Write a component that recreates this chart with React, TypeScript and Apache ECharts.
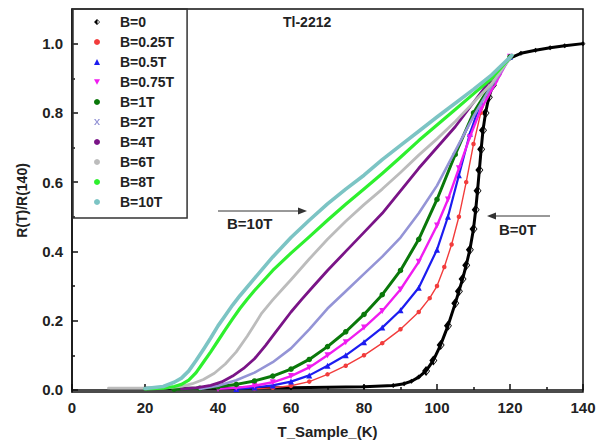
import React, { useEffect, useRef } from 'react';
import * as echarts from 'echarts';

// ---- data (T in K, R(T)/R(140)) ----
const X_TICKS = [0, 20, 40, 60, 80, 100, 120, 140];
const X_MINOR = [10, 30, 50, 70, 90, 110, 130];
const Y_TICKS = [0, 0.2, 0.4, 0.6, 0.8, 1.0];
const Y_MINOR = [0.1, 0.3, 0.5, 0.7, 0.9];

const NAMES = ['B=0', 'B=0.25T', 'B=0.5T', 'B=0.75T', 'B=1T', 'B=2T', 'B=4T', 'B=6T', 'B=8T', 'B=10T'];

const b0 = [[20,0.005],[40,0.005],[60,0.006],[80,0.009],[88,0.013],[91,0.018],[93,0.025],[95,0.037],[97,0.055],[99,0.085],[101,0.13],[103,0.185],[105,0.25],[106,0.285],[107,0.32],[108,0.36],[109,0.405],[110,0.465],[110.6,0.52],[111.1,0.575],[111.6,0.635],[112.1,0.695],[112.6,0.75],[113.3,0.8],[114.2,0.845],[115.3,0.88],[116.6,0.91],[118.2,0.938],[120,0.958],[123,0.972],[127,0.981],[131,0.988],[135,0.994],[140,1.0]];
const b025 = [[50,0.003],[55,0.006],[60,0.012],[65,0.024],[70,0.045],[75,0.07],[80,0.1],[85,0.135],[90,0.175],[95,0.225],[98,0.265],[100,0.3],[102,0.355],[104,0.42],[106,0.5],[108,0.6],[110,0.71],[112,0.8],[114,0.855],[117,0.915],[120,0.962]];
const b05 = [[45,0.003],[50,0.007],[55,0.013],[60,0.024],[65,0.042],[70,0.07],[75,0.1],[80,0.138],[85,0.18],[90,0.23],[95,0.295],[100,0.405],[103,0.5],[106,0.62],[109,0.74],[112,0.83],[116,0.9],[120,0.962]];
const b075 = [[40,0.003],[45,0.006],[50,0.012],[55,0.022],[60,0.04],[65,0.065],[70,0.1],[75,0.138],[80,0.18],[85,0.228],[90,0.29],[95,0.37],[100,0.475],[103,0.55],[106,0.64],[109,0.73],[112,0.81],[116,0.885],[120,0.962]];
const b1 = [[28,0.002],[35,0.005],[40,0.009],[45,0.016],[50,0.026],[55,0.04],[60,0.06],[65,0.088],[70,0.125],[75,0.168],[80,0.218],[85,0.275],[90,0.345],[95,0.435],[100,0.55],[105,0.68],[110,0.8],[115,0.885],[120,0.962]];
const b2 = [[35,0.003],[40,0.012],[45,0.028],[50,0.05],[55,0.08],[60,0.12],[65,0.175],[70,0.235],[75,0.285],[80,0.335],[85,0.385],[90,0.44],[95,0.51],[100,0.59],[105,0.69],[110,0.79],[115,0.88],[120.5,0.966]];
const b4 = [[30,0.003],[34,0.006],[38,0.013],[41,0.023],[44,0.04],[47,0.062],[50,0.09],[53,0.128],[56,0.17],[60,0.225],[63,0.262],[66,0.298],[70,0.345],[75,0.4],[80,0.455],[85,0.51],[90,0.575],[95,0.64],[100,0.7],[105,0.76],[110,0.83],[115,0.9],[120.5,0.966]];
const b6 = [[10,0.005],[20,0.005],[26,0.006],[30,0.01],[33,0.018],[36,0.03],[39,0.048],[42,0.075],[45,0.11],[48,0.155],[50,0.188],[52,0.222],[55,0.26],[58,0.295],[60,0.318],[65,0.378],[70,0.435],[75,0.487],[80,0.535],[85,0.58],[90,0.628],[95,0.678],[100,0.725],[105,0.775],[110,0.83],[115,0.885],[120.5,0.966]];
const b8 = [[20,0.003],[25,0.005],[28,0.01],[30,0.016],[32,0.028],[34,0.05],[36,0.08],[38,0.11],[40,0.142],[42,0.174],[44,0.205],[46,0.235],[48,0.262],[50,0.287],[55,0.345],[60,0.395],[65,0.442],[70,0.49],[75,0.536],[80,0.58],[85,0.625],[90,0.672],[95,0.72],[100,0.765],[105,0.81],[110,0.855],[115,0.9],[120.5,0.966]];
const b10 = [[20,0.004],[25,0.01],[28,0.022],[30,0.034],[32,0.055],[34,0.085],[36,0.117],[38,0.15],[40,0.185],[42,0.215],[44,0.245],[46,0.272],[50,0.322],[55,0.384],[60,0.44],[65,0.49],[70,0.537],[75,0.58],[80,0.62],[85,0.665],[90,0.706],[95,0.747],[100,0.788],[105,0.828],[110,0.868],[115,0.91],[120.5,0.966]];

const SERIES_DATA = [b0, b025, b05, b075, b1, b2, b4, b6, b8, b10];
const COLORS = ['#000000', '#f23c3c', '#1c1cf0', '#f01cf0', '#0a780a', '#9494d6', '#7a1487', '#bcbcbc', '#2ef02e', '#7cc4c4'];

const HALF_DIAMOND = 'path://M0,-10 L10,0 L0,10 L-10,0 Z M1.5,-6 L1.5,6 L7.5,0 Z';
const TRI_DOWN = 'path://M0,0 L10,0 L5,9 Z';
const CROSS = 'path://M0,0 L2.5,0 L5,3.8 L7.5,0 L10,0 L6.3,5 L10,10 L7.5,10 L5,6.2 L2.5,10 L0,10 L3.7,5 Z';
const SYMBOLS = [HALF_DIAMOND, 'circle', 'triangle', TRI_DOWN, 'circle', CROSS, 'circle', 'circle', 'circle', 'circle'];
const SHOW_SYMBOL = [true, true, true, true, true, false, false, false, false, false];
const SYMBOL_SIZES: any[] = [[8, 10], 4.5, 6, 6, 5.5, 6, 4, 3, 4, 4];
const LINE_WIDTHS = [3, 1.4, 2.2, 2.4, 3, 2.6, 2.8, 2.8, 3.2, 3.6];

const FONT = "'Liberation Sans', Arial, sans-serif";

export default function App() {
  const ref = useRef<HTMLDivElement>(null);
  useEffect(() => {
    if (!ref.current) return;
    const chart = echarts.init(ref.current, null, { renderer: 'svg' });
    const series = NAMES.map((name, i) => ({
      name,
      type: 'line',
      data: SERIES_DATA[i],
      xAxisIndex: 0,
      yAxisIndex: 0,
      smooth: false,
      showSymbol: SHOW_SYMBOL[i],
      showAllSymbol: true,
      symbol: SYMBOLS[i],
      symbolSize: i === 0
        ? (v: number[]) => (v[1] < 0.04 || v[1] > 0.93 ? 5 : [8, 10])
        : SYMBOL_SIZES[i],
      itemStyle: { color: COLORS[i] },
      lineStyle: { color: COLORS[i], width: LINE_WIDTHS[i], join: 'round', cap: 'round' },
      emphasis: { disabled: true },
      z: 2 + i,
    }));
    const axisFont = { fontFamily: FONT, fontWeight: 'bold', fontSize: 15, color: '#222' };
    chart.setOption({
      animation: false,
      grid: { left: 72, right: 16, top: 9, bottom: 56, show: true, borderColor: '#111', borderWidth: 1.5, backgroundColor: 'transparent' },
      xAxis: [
        {
          type: 'value', min: 0, max: 140, interval: 20, position: 'bottom',
          axisLine: { show: true, lineStyle: { color: '#111', width: 1.5 } },
          axisTick: { show: true, inside: true, length: 6, lineStyle: { color: '#111', width: 1.5 }, customValues: X_TICKS },
          axisLabel: { ...axisFont, margin: 8, customValues: X_TICKS },
          splitLine: { show: false },
          name: 'T_Sample_(K)', nameLocation: 'middle', nameGap: 32,
          nameTextStyle: { fontFamily: FONT, fontWeight: 'bold', fontSize: 15, color: '#222' },
        },
        {
          type: 'value', min: 0, max: 140, position: 'bottom',
          axisLine: { show: false },
          axisTick: { show: true, inside: true, length: 3, lineStyle: { color: '#111', width: 1.5 }, customValues: X_MINOR },
          axisLabel: { show: false },
          splitLine: { show: false },
        },
      ],
      yAxis: [
        {
          type: 'value', min: -0.006, max: 1.1, position: 'left',
          axisLine: { show: true, lineStyle: { color: '#111', width: 1.5 } },
          axisTick: { show: true, inside: true, length: 6, lineStyle: { color: '#111', width: 1.5 }, customValues: Y_TICKS },
          axisLabel: { ...axisFont, margin: 9, customValues: Y_TICKS, formatter: (v: number) => v.toFixed(1) },
          splitLine: { show: false },
          name: 'R(T)/R(140)', nameLocation: 'middle', nameGap: 43, nameRotate: 90,
          nameTextStyle: { fontFamily: FONT, fontWeight: 'bold', fontSize: 14, color: '#222' },
        },
        {
          type: 'value', min: -0.006, max: 1.1, position: 'left',
          axisLine: { show: false },
          axisTick: { show: true, inside: true, length: 3, lineStyle: { color: '#111', width: 1.5 }, customValues: Y_MINOR },
          axisLabel: { show: false },
          splitLine: { show: false },
        },
      ],
      legend: {
        orient: 'vertical', left: 73, top: 9,
        padding: [3, 13, 6, 21],
        itemGap: 0, itemWidth: 6, itemHeight: 6,
        borderColor: '#333', borderWidth: 1.5,
        selectedMode: false,
        textStyle: { fontFamily: FONT, fontWeight: 'bold', fontSize: 14, color: '#222', lineHeight: 20, padding: [0, 0, 0, 15] },
        data: NAMES.map((n, i) => ({ name: n, icon: SYMBOLS[i] })),
      },
      graphic: [
        { type: 'text', left: 283, top: 15, style: { text: 'Tl-2212', font: `bold 14px ${FONT}`, fill: '#222' } },
        { type: 'line', shape: { x1: 218, y1: 211, x2: 300, y2: 211 }, style: { stroke: '#333', lineWidth: 1 } },
        { type: 'polygon', shape: { points: [[307, 211], [298, 207.5], [298, 214.5]] }, style: { fill: '#333' } },
        { type: 'text', left: 227, top: 216, style: { text: 'B=10T', font: `bold 15px ${FONT}`, fill: '#222' } },
        { type: 'line', shape: { x1: 550, y1: 216, x2: 495, y2: 216 }, style: { stroke: '#333', lineWidth: 1 } },
        { type: 'polygon', shape: { points: [[487, 216], [496, 212.5], [496, 219.5]] }, style: { fill: '#333' } },
        { type: 'text', left: 499, top: 222, style: { text: 'B=0T', font: `bold 15px ${FONT}`, fill: '#222' } },
      ],
      series,
    });
    return () => chart.dispose();
  }, []);
  return <div ref={ref} style={{ width: 599, height: 448, position: 'absolute', left: 0, top: 0, background: '#fff' }} />;
}
